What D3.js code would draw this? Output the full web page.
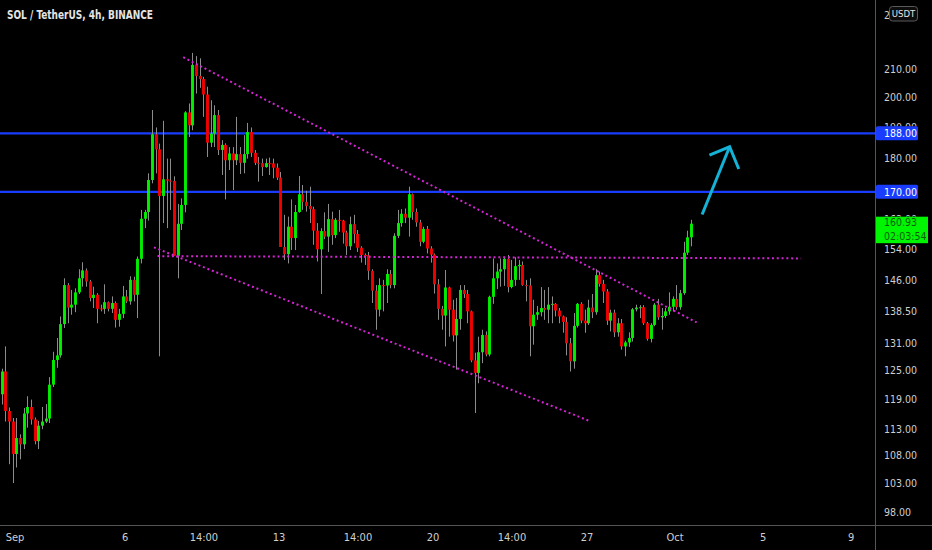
<!DOCTYPE html>
<html><head><meta charset="utf-8">
<script src="https://cdn.jsdelivr.net/npm/d3@7"></script>
<style>
html,body{margin:0;padding:0;background:#000;overflow:hidden}
text{font-family:"DejaVu Sans Condensed","Liberation Sans Narrow",Arial,sans-serif}
</style>
</head><body>
<svg id="c" width="932" height="550"></svg>
<script>
// ---- data ----
const title = "SOL / TetherUS, 4h, BINANCE";
const firstCandle = Date.UTC(2021,7,31,10);   // 4h candles
const opens = [120.0,124.8,116.6,114.5,108.3,111.3,110.1,116.1,117.4,114.9,110.7,113.7,114.5,115.1,122.0,127.3,128.3,135.4,144.8,139.3,
140.0,143.0,146.5,148.5,145.7,141.6,142.4,139.1,139.0,140.6,139.0,140.4,136.4,137.8,142.0,140.8,146.1,142.4,151.5,162.3,
164.2,173.5,187.7,182.9,168.8,173.7,173.3,173.2,152.3,160.9,166.2,194.9,190.6,211.5,207.5,206.4,201.0,185.0,187.9,194.0,
182.7,184.3,179.5,181.6,179.5,181.4,178.7,181.4,188.4,181.8,178.7,178.6,177.4,178.6,178.5,177.2,174.2,154.6,152.7,160.1,
157.0,164.2,169.3,167.1,165.9,165.0,159.0,154.0,158.9,157.4,162.2,157.8,162.0,161.8,158.5,154.8,160.8,158.1,154.4,152.5,
152.4,148.4,143.4,138.8,144.8,144.7,147.6,144.8,157.6,161.1,163.7,162.6,169.3,164.2,161.3,156.0,159.5,154.2,152.6,145.0,
139.0,137.4,144.2,138.8,132.8,136.6,143.6,142.6,138.4,127.2,124.5,129.0,132.9,128.5,141.9,146.5,148.2,148.8,151.5,144.3,
146.1,149.6,149.9,144.8,144.7,134.9,137.6,138.2,139.2,138.8,140.0,140.2,138.6,137.2,135.9,131.0,127.0,135.0,140.2,136.2,
135.6,139.3,138.2,147.3,145.1,143.2,136.2,138.1,133.5,135.6,130.3,131.2,132.2,138.9,139.3,139.4,135.6,132.0,135.2,140.0,
137.0,137.3,138.4,139.5,141.4,139.4,142.8,153.1,157.2];
const highs = [125.4,130.3,117.3,115.2,115.2,112.0,117.2,119.6,118.9,115.3,114.6,117.4,118.0,123.6,129.1,132.2,137.2,146.5,145.3,143.6,
144.0,148.8,150.6,149.0,146.1,144.4,142.8,140.0,145.0,140.8,142.0,140.8,139.0,144.6,143.6,147.0,146.9,152.1,164.8,164.8,
175.5,195.7,189.9,184.7,192.1,180.0,180.0,174.6,166.5,168.1,195.3,197.9,215.9,214.7,213.9,207.2,203.7,199.0,197.3,195.7,
185.8,184.8,183.6,183.6,193.4,183.6,187.4,191.4,189.9,182.7,180.5,180.0,180.0,180.3,180.0,178.5,175.9,163.4,162.9,167.8,
166.2,174.7,172.0,170.3,171.5,165.7,161.1,159.7,164.1,166.5,164.3,162.5,164.8,162.0,159.0,162.9,163.4,159.2,154.8,152.9,
153.3,148.8,144.8,146.5,146.1,148.8,148.6,158.3,164.8,165.0,165.2,171.5,169.5,165.2,162.0,160.1,160.3,154.8,152.9,146.3,
139.7,148.6,144.4,141.2,141.6,144.8,144.8,143.6,138.6,128.9,132.5,134.1,133.7,142.2,151.6,150.3,151.6,152.0,152.5,151.2,
151.9,151.2,150.8,146.1,146.5,141.2,139.7,144.3,143.6,144.3,142.0,140.4,139.2,137.4,137.0,132.2,138.0,140.4,140.6,138.8,
141.2,142.6,148.8,148.2,146.1,143.8,138.8,138.8,136.8,136.6,131.6,133.5,139.2,140.0,139.9,139.9,135.9,135.6,140.4,141.4,
139.2,139.2,143.0,142.0,144.8,143.6,156.0,159.0,162.0];
const lows = [117.9,114.5,106.4,103.0,105.8,107.3,109.2,113.3,113.9,110.1,109.2,113.0,114.2,114.2,121.5,125.6,127.8,134.5,135.6,137.6,
138.2,142.6,144.4,144.4,140.8,139.2,135.6,138.4,137.8,138.4,138.0,134.6,134.8,136.8,140.4,140.0,140.8,136.8,150.3,159.7,
161.8,172.5,175.5,128.1,161.1,159.7,164.8,152.3,146.5,159.2,164.1,186.8,189.0,201.3,203.3,193.4,180.5,183.6,183.6,181.1,
175.0,167.8,176.5,170.5,178.0,175.3,175.5,180.0,180.5,178.0,173.0,174.7,177.2,175.0,174.0,173.5,154.6,151.2,150.3,153.8,
153.8,164.0,164.8,164.3,161.1,155.2,150.8,142.6,156.7,153.3,155.2,157.0,158.7,155.5,152.5,153.8,155.6,153.3,150.5,149.9,
146.1,140.4,134.1,137.2,138.4,140.4,144.0,144.0,157.0,160.1,161.1,157.4,162.0,160.1,154.8,155.6,152.9,150.5,142.7,136.4,
134.1,130.3,132.5,131.4,125.2,134.1,141.6,135.6,126.8,116.2,122.3,126.6,128.1,128.1,140.2,143.8,144.4,144.6,143.0,144.0,
144.6,146.1,144.6,140.8,128.1,130.7,136.4,137.2,136.4,135.6,135.6,137.2,135.6,133.4,128.3,124.8,125.4,134.6,135.6,133.4,
135.2,136.8,137.6,144.4,140.4,135.2,133.7,132.4,132.5,129.6,128.1,130.2,131.4,138.4,136.8,135.2,131.6,131.2,134.9,136.4,
134.1,136.8,137.6,138.4,138.8,138.8,142.4,152.5,154.8];
const closes = [124.8,116.6,114.5,108.3,111.3,110.1,116.1,117.4,114.9,110.7,113.7,114.5,115.1,122.0,127.3,128.3,135.4,144.8,139.3,140.0,
143.0,146.5,148.5,145.7,141.6,142.4,139.0,139.0,140.6,139.0,140.4,136.4,137.8,142.0,140.8,146.1,142.4,151.5,162.3,164.2,
173.5,187.7,182.9,168.8,173.7,173.3,173.2,152.3,160.9,166.2,194.9,190.6,211.5,207.5,206.4,201.0,185.0,187.9,194.0,182.7,
184.3,179.5,181.6,179.5,181.4,178.7,181.4,188.4,181.8,178.7,178.6,177.4,178.6,178.5,177.2,174.2,154.6,152.7,160.1,157.0,
164.2,169.3,167.1,165.9,165.0,159.0,154.0,158.9,157.4,162.2,157.8,162.0,161.8,158.5,154.8,160.8,158.1,154.4,152.5,152.4,
148.4,143.4,138.8,144.8,144.7,147.6,144.8,157.6,161.1,163.7,162.6,169.3,164.2,161.3,156.0,159.5,154.2,152.6,145.0,139.0,
137.4,144.2,138.8,132.8,136.6,143.6,142.6,138.4,127.2,124.5,129.0,132.9,128.5,141.9,146.5,148.2,148.8,151.5,144.3,146.1,
149.6,149.9,144.8,144.7,134.9,137.6,138.2,139.2,138.8,140.0,140.2,138.6,137.2,135.9,131.0,127.0,135.0,140.2,136.2,135.6,
139.3,138.2,147.3,145.1,143.2,136.2,138.1,133.5,135.6,130.3,131.2,132.2,138.9,139.3,139.4,135.6,132.0,135.2,140.0,137.0,
137.3,138.4,139.5,141.4,139.4,142.8,153.1,157.2,160.93];
const priceTicks = [98,103,108,113,119,125,131,138.5,146,154,180,200,210];
const coveredTicks = [162,190,230];   // labels partly hidden behind tags in the reference
const timeTicks = [Date.UTC(2021,8,1),Date.UTC(2021,8,6),Date.UTC(2021,8,9,14),Date.UTC(2021,8,13),Date.UTC(2021,8,16,14),
  Date.UTC(2021,8,20),Date.UTC(2021,8,23,14),Date.UTC(2021,8,27),Date.UTC(2021,9,1),Date.UTC(2021,9,5),Date.UTC(2021,9,9)];
const timeLabels = ["Sep","6","14:00","13","14:00","20","14:00","27","Oct","5","9"];
const levels = [188,170];
const lastPrice = 160.93;
const countdown = "02:03:54";
const currency = "USDT";
const upperTrend = [[Date.UTC(2021,8,8,16),214.3],[Date.UTC(2021,9,2,0),135.8]];
const lowerTrend = [[Date.UTC(2021,8,7,8),154.5],[Date.UTC(2021,8,27,2),114.7]];
const baseLine   = [[Date.UTC(2021,8,7,12),152.2],[Date.UTC(2021,9,6,18),151.6]];
const arrowShaft = [[Date.UTC(2021,9,2,6),163.5],[Date.UTC(2021,9,3,12),183.7]];
const arrowHead  = [[Date.UTC(2021,9,2,14),181.1],[Date.UTC(2021,9,3,12),183.7],[Date.UTC(2021,9,3,22),176.8]];

// ---- chart ----
const W = 932, H = 550, plotR = 875.5, plotB = 525.5;
const H4 = 4*3600*1000;
const FONT = '"DejaVu Sans Condensed","Liberation Sans Narrow",Arial,sans-serif';
const candles = opens.map((o,i)=>({t:firstCandle+i*H4,o,h:highs[i],l:lows[i],c:closes[i]}));

const x = d3.scaleUtc().domain([firstCandle, Date.UTC(2021,9,9,10)]).range([1.7, 859.8]);
const y = d3.scaleLog().domain([98,210]).range([512,69]);
const fmt = d3.format(".2f");

const svg = d3.select("#c");
svg.append("rect").attr("width",W).attr("height",H).attr("fill","#000");
const defs = svg.append("defs");
defs.append("clipPath").attr("id","plot").append("rect").attr("x",0).attr("y",0).attr("width",plotR).attr("height",plotB);
const g = svg.append("g").attr("clip-path","url(#plot)");

// horizontal levels
g.selectAll("line.lvl").data(levels).join("line")
  .attr("x1",0).attr("x2",plotR).attr("y1",d=>y(d)).attr("y2",d=>y(d))
  .attr("stroke","#1a3cff").attr("stroke-width",2.2);

// wicks
g.selectAll("line.wick").data(candles).join("line")
  .attr("x1",d=>Math.round(x(d.t))+0.5).attr("x2",d=>Math.round(x(d.t))+0.5)
  .attr("y1",d=>y(d.h)).attr("y2",d=>y(d.l))
  .attr("stroke","#8c8c8c").attr("stroke-width",1);

// bodies
const bw = 2.9;
g.selectAll("rect.body").data(candles).join("rect")
  .attr("x",d=>Math.round(x(d.t))+0.5-bw/2)
  .attr("y",d=>y(Math.max(d.o,d.c)))
  .attr("width",bw)
  .attr("height",d=>Math.max(1,Math.abs(y(d.o)-y(d.c))))
  .attr("fill",d=>d.c>=d.o?"#00f000":"#f20000");

// dotted trend lines
const ln = d3.line().x(d=>x(d[0])).y(d=>y(d[1]));
[upperTrend,lowerTrend,baseLine].forEach(pts=>{
  g.append("path").attr("d",ln(pts)).attr("fill","none")
   .attr("stroke","#d424d4").attr("stroke-width",2).attr("stroke-dasharray","2,2.8");
});
// arrow
g.append("path").attr("d",ln(arrowShaft)).attr("fill","none").attr("stroke","#14b2d6").attr("stroke-width",3);
g.append("path").attr("d",ln(arrowHead)).attr("fill","none").attr("stroke","#14b2d6").attr("stroke-width",3).attr("stroke-linejoin","miter");

// axis lines
svg.append("line").attr("x1",plotR).attr("x2",plotR).attr("y1",0).attr("y2",H).attr("stroke","#555").attr("stroke-width",1);
svg.append("line").attr("x1",0).attr("x2",W).attr("y1",plotB).attr("y2",plotB).attr("stroke","#555").attr("stroke-width",1);

// price axis labels
const yAxis = d3.axisRight(y).tickValues(priceTicks).tickSize(0).tickPadding(0).tickFormat(fmt);
const ya = svg.append("g").attr("transform","translate(884,0)").call(yAxis);
ya.select(".domain").remove();
ya.selectAll("text").attr("fill","#cfcfcf").attr("font-size","10.5px").style("font-family",FONT);

// labels that peek out from behind the tags (clipped to their visible part)
const peek = {162:[876,0,60,216.5], 190:[876,0,60,126.5], 230:[876,0,13.5,60]};
coveredTicks.forEach(v=>{
  const id = "pk"+v;
  const r = peek[v];
  defs.append("clipPath").attr("id",id).append("rect").attr("x",r[0]).attr("y",r[1]).attr("width",r[2]).attr("height",r[3]);
  svg.append("text").attr("clip-path",`url(#${id})`).attr("x",884).attr("y",y(v)).attr("dy","0.32em")
    .attr("fill","#cfcfcf").attr("font-size","10.5px").text(fmt(v));
});

// time axis labels
const xAxis = d3.axisBottom(x).tickValues(timeTicks).tickSize(0).tickPadding(0).tickFormat((d,i)=>timeLabels[i]);
const xa = svg.append("g").attr("transform","translate(0,532.5)").call(xAxis);
xa.select(".domain").remove();
xa.selectAll("text").attr("fill","#cfcfcf").attr("font-size","11px").attr("dy","0.75em").style("font-family",FONT);

// level tags
levels.forEach(v=>{
  const yy = y(v);
  svg.append("rect").attr("x",876).attr("y",yy-7).attr("width",42).attr("height",14).attr("rx",1.5).attr("fill","#1a3cff");
  svg.append("text").attr("x",884).attr("y",yy).attr("dy","0.35em").attr("fill","#fff").attr("font-size","10.5px").text(fmt(v));
});
// last price tag
{
  const yy = y(lastPrice);
  svg.append("rect").attr("x",876).attr("y",yy-7).attr("width",52).attr("height",26.5).attr("fill","#00f500");
  svg.append("text").attr("x",884).attr("y",yy-1.8).attr("dy","0.35em").attr("fill","#0f5a10").attr("font-size","10.5px").text(fmt(lastPrice));
  svg.append("text").attr("x",884).attr("y",yy+12.3).attr("dy","0.35em").attr("fill","#0f5a10").attr("font-size","10.5px").text(countdown);
}
// currency badge
svg.append("rect").attr("x",889.5).attr("y",6.5).attr("width",28).attr("height",14.5).attr("rx",3)
  .attr("fill","#0c0c0c").attr("stroke","#5a5a5a").attr("stroke-width",1);
svg.append("text").attr("x",903.5).attr("y",13.8).attr("dy","0.35em").attr("text-anchor","middle")
  .attr("fill","#e6e6e6").attr("font-size","9.5px").text(currency);

// title
svg.append("text").attr("x",7).attr("y",19).attr("fill","#e4e4e4").attr("font-size","12px").attr("font-weight","bold")
  .attr("textLength",146).attr("lengthAdjust","spacingAndGlyphs").text(title);
</script>
</body></html>
